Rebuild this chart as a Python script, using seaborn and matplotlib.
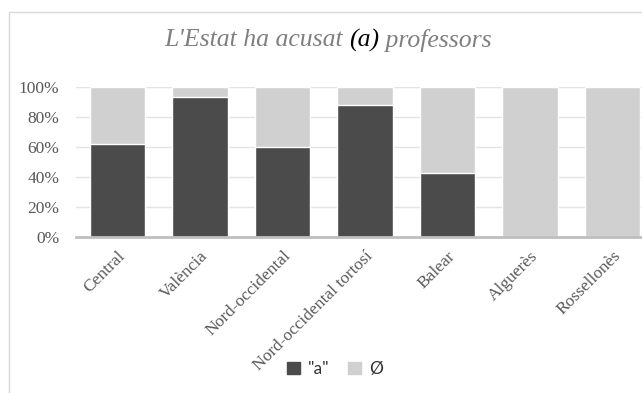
import pandas as pd
import matplotlib.pyplot as plt
import matplotlib.patches as mpatches
from matplotlib.ticker import PercentFormatter
import seaborn as sns

# data (share of "a" per dialect, in %)
dialects = ['Central', 'València', 'Nord-occidental', 'Nord-occidental tortosí',
            'Balear', 'Alguerès', 'Rossellonès']
share_a = [62, 93.5, 60.3, 88, 43, 0, 0]
share_none = [100 - v for v in share_a]
series_labels = ['"a"', 'Ø']

dark = '#4b4b4b'
light = '#d0d0d0'
text_gray = '#595959'

df = pd.DataFrame({'dialect': dialects, 'a': share_a, 'none': share_none})
df['total'] = df['a'] + df['none']

sns.set_style('white')
plt.rcParams['font.family'] = ['Liberation Serif', 'DejaVu Serif']

fig = plt.figure(figsize=(6.42, 3.93), dpi=100)
ax = fig.add_axes([76 / 642, 1 - 237 / 393, 578 / 642, 150 / 393])

# stacked bars: full height in light grey, "a" share drawn on top in dark grey
sns.barplot(data=df, x='dialect', y='total', color=light, width=0.67,
            saturation=1, ax=ax, zorder=2)
sns.barplot(data=df, x='dialect', y='a', color=dark, width=0.67,
            saturation=1, ax=ax, zorder=3)

ax.set_ylim(0, 100)
ax.set_xlim(-0.5, len(dialects) - 0.5)
ax.set_yticks(range(0, 101, 20))
ax.yaxis.set_major_formatter(PercentFormatter(decimals=0))
ax.grid(axis='y', color='#e3e3e3', linewidth=1, zorder=0)
ax.set_axisbelow(True)
for s in ['top', 'right', 'left']:
    ax.spines[s].set_visible(False)
ax.spines['bottom'].set_color('#bfbfbf')
ax.spines['bottom'].set_linewidth(2)
ax.spines['bottom'].set_zorder(4)
ax.tick_params(axis='both', length=0, colors=text_gray, labelsize=12.5)
ax.tick_params(axis='y', pad=12)
ax.tick_params(axis='x', pad=8)
plt.setp(ax.get_xticklabels(), rotation=45, ha='right', rotation_mode='anchor')
ax.set_xlabel('')
ax.set_ylabel('')

# chart frame (cut off on the right and bottom as in the source)
fig.patches.append(mpatches.Rectangle((9 / 642, -0.1), 1.2, 1 - 12 / 393 + 0.1,
                                      transform=fig.transFigure, fill=False,
                                      edgecolor='#d9d9d9', linewidth=1))

# title with the "(a)" part in black
parts = [("L'Estat ha acusat ", '#7f7f7f'), ('(a)', 'black'), (' professors', '#7f7f7f')]
fig.canvas.draw()
renderer = fig.canvas.get_renderer()
texts = []
x = 0
for txt, col in parts:
    t = fig.text(x, 1 - 40 / 393, txt, color=col, fontsize=18.5, style='italic',
                 va='center', ha='left', transform=fig.transFigure)
    w = t.get_window_extent(renderer).width / fig.bbox.width
    texts.append((t, w))
    x += w
start = 328 / 642 - x / 2
for t, w in texts:
    t.set_x(start)
    start += w

handles = [mpatches.Patch(color=dark, label=series_labels[0]),
           mpatches.Patch(color=light, label=series_labels[1])]
fig.legend(handles=handles, loc='center', bbox_to_anchor=(335 / 642, 1 - 369 / 393),
           ncol=2, frameon=False, handlelength=0.75, handleheight=0.75,
           handletextpad=0.45, columnspacing=1.1,
           prop={'family': 'Lato', 'size': 12.5})
for t in fig.legends[0].get_texts():
    t.set_color('#333333')

fig.savefig('out.png', dpi=100)
